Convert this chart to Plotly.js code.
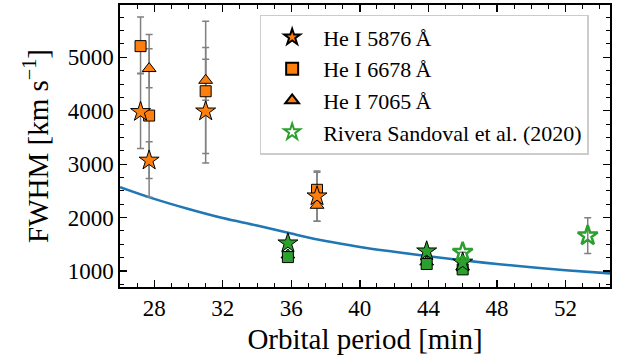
<!DOCTYPE html>
<html>
<head>
<meta charset="utf-8">
<script src="https://cdn.plot.ly/plotly-3.0.1.min.js"></script>
<style>html,body{margin:0;padding:0;background:#fff;}#chart{width:617px;height:359px;}</style>
</head>
<body>
<div id="chart"></div>
<script>
// He I 5876 Å (orange stars)
const he5876Period = [27.2, 27.7, 31.0, 37.5];
const he5876Fwhm   = [3980, 3070, 3990, 2400];
const he5876ErrUp  = [720, 350, 1685, 470];
const he5876ErrDn  = [686, 340, 969, 470];
// He I 6678 Å (orange squares)
const he6678Period = [27.2, 27.7, 31.0, 37.5];
const he6678Fwhm   = [5210, 3910, 4365, 2520];
const he6678ErrUp  = [545, 1520, 819, 330];
const he6678ErrDn  = [515, 1530, 1167, 330];
// He I 7065 Å (orange triangles)
const he7065Period = [27.7, 31.0, 37.5];
const he7065Fwhm   = [4790, 4570, 2230];
const he7065ErrUp  = [370, 393, 300];
const he7065ErrDn  = [360, 374, 300];
// Other systems (green filled, not in legend)
const greenStarPeriod = [35.8, 43.9, 46.0];
const greenStarFwhm   = [1520, 1370, 1160];
const greenSqPeriod   = [35.8, 43.9, 46.0];
const greenSqFwhm     = [1260, 1130, 1030];
const greenTriPeriod  = [35.8, 43.9, 46.0];
const greenTriFwhm    = [1300, 1170, 1080];
// Rivera Sandoval et al. (2020)
const riveraPeriod = [46.0, 53.3];
const riveraFwhm   = [1350, 1660];
const riveraErr    = [0, 335];
// Blue relation curve
const curvePeriod = [26, 28, 30, 32, 34, 36, 38, 40, 42, 44, 46, 48, 50, 52, 54.6];
const curveFwhm   = [2570, 2350, 2160, 1990, 1850, 1700, 1560, 1450, 1360, 1275, 1200, 1130, 1070, 1015, 955];
// Axis ticks
const xTicks = [28, 32, 36, 40, 44, 48, 52];
const yTicks = [1000, 2000, 3000, 4000, 5000];
const xRange = [26, 54.6];
const yRange = [700, 5980];

const ORANGE = '#ff7f0e', GREEN = '#2ca02c', BLUE = '#1f77b4', GREY = '#808080';
const FONT = 'Liberation Serif, DejaVu Serif, serif';

function errTrace(x, y, up, dn) {
  return {x: x, y: y, type: 'scatter', mode: 'markers', showlegend: false, hoverinfo: 'skip',
    marker: {size: 1, opacity: 0},
    error_y: {type: 'data', symmetric: false, array: up, arrayminus: dn, color: GREY, thickness: 1.5, width: 3.5}};
}
function mk(x, y, symbol, color, size, name, show, rank) {
  return {x: x, y: y, type: 'scatter', mode: 'markers', name: name, showlegend: show,
    legendgroup: name, legendrank: rank,
    marker: {symbol: symbol, color: color, size: size, line: {color: '#000', width: 1}}};
}

const traces = [
  {x: curvePeriod, y: curveFwhm, type: 'scatter', mode: 'lines', showlegend: false, hoverinfo: 'skip',
   line: {color: BLUE, width: 2.6, shape: 'spline'}},
  errTrace(he5876Period, he5876Fwhm, he5876ErrUp, he5876ErrDn),
  errTrace(he6678Period, he6678Fwhm, he6678ErrUp, he6678ErrDn),
  errTrace(he7065Period, he7065Fwhm, he7065ErrUp, he7065ErrDn),
  errTrace(riveraPeriod, riveraFwhm, riveraErr, riveraErr),
  mk(he7065Period, he7065Fwhm, 'triangle-up', ORANGE, 12, 'He I 7065\u2009Å', true, 3),
  mk(he6678Period, he6678Fwhm, 'square', ORANGE, 11, 'He I 6678\u2009Å', true, 2),
  mk(he5876Period, he5876Fwhm, 'star', ORANGE, 15, 'He I 5876\u2009Å', true, 1),
  mk(greenTriPeriod, greenTriFwhm, 'triangle-up', GREEN, 12, 'g1', false, 10),
  mk(greenSqPeriod, greenSqFwhm, 'square', GREEN, 11, 'g2', false, 11),
  mk(greenStarPeriod, greenStarFwhm, 'star', GREEN, 15, 'g3', false, 12),
  {x: riveraPeriod, y: riveraFwhm, type: 'scatter', mode: 'markers', name: 'Rivera Sandoval et al. (2020)',
   legendgroup: 'rivera', legendrank: 4,
   marker: {symbol: 'star-open', color: GREEN, size: 15, line: {color: GREEN, width: 2.5}}},
  {x: [], y: [], xaxis: 'x2', yaxis: 'y2', type: 'scatter', mode: 'markers', showlegend: false, hoverinfo: 'skip'}
];

const tickCommon = {
  showgrid: false, zeroline: false, ticks: 'inside', ticklen: 7, tickwidth: 1.3, tickcolor: '#000',
  tickfont: {family: FONT, size: 23, color: '#000'}
};
const xMinor = {dtick: 1, tick0: 26, ticks: 'inside', ticklen: 4, tickwidth: 1, tickcolor: '#000'};
const yMinor = {dtick: 250, tick0: 0, ticks: 'inside', ticklen: 4, tickwidth: 1, tickcolor: '#000'};

const layout = {
  width: 617, height: 359,
  margin: {l: 120, r: 7, t: 5, b: 72},
  paper_bgcolor: '#fff', plot_bgcolor: '#fff',
  font: {family: FONT, color: '#000'},
  xaxis: Object.assign({}, tickCommon, {
    showline: true, linecolor: '#000', linewidth: 1.6, mirror: true,
    range: xRange, tickmode: 'array', tickvals: xTicks, ticktext: xTicks.map(String),
    minor: xMinor,
    title: {text: 'Orbital period [min]', font: {family: FONT, size: 29}, standoff: 8}
  }),
  yaxis: Object.assign({}, tickCommon, {
    showline: true, linecolor: '#000', linewidth: 1.6, mirror: true,
    range: yRange, tickmode: 'array', tickvals: yTicks, ticktext: yTicks.map(String),
    minor: yMinor,
    title: {text: 'FWHM [km s<sup>−1</sup>]', font: {family: FONT, size: 29}, standoff: 10}
  }),
  xaxis2: Object.assign({}, tickCommon, {
    overlaying: 'x', side: 'top', anchor: 'y2', showline: false, showticklabels: false,
    range: xRange, tickmode: 'array', tickvals: xTicks, minor: xMinor
  }),
  yaxis2: Object.assign({}, tickCommon, {
    overlaying: 'y', side: 'right', anchor: 'x2', showline: false, showticklabels: false,
    range: yRange, tickmode: 'array', tickvals: yTicks, minor: yMinor
  }),
  legend: {
    x: 0.285, y: 0.965, xanchor: 'left', yanchor: 'top',
    bgcolor: 'rgba(255,255,255,0.85)', bordercolor: '#cccccc', borderwidth: 1.5,
    font: {family: FONT, size: 22, color: '#000'},
    traceorder: 'normal', tracegroupgap: 3, itemsizing: 'constant', itemwidth: 52
  },
  showlegend: true
};

Plotly.newPlot('chart', traces, layout, {staticPlot: true, displayModeBar: false});
</script>
</body>
</html>
